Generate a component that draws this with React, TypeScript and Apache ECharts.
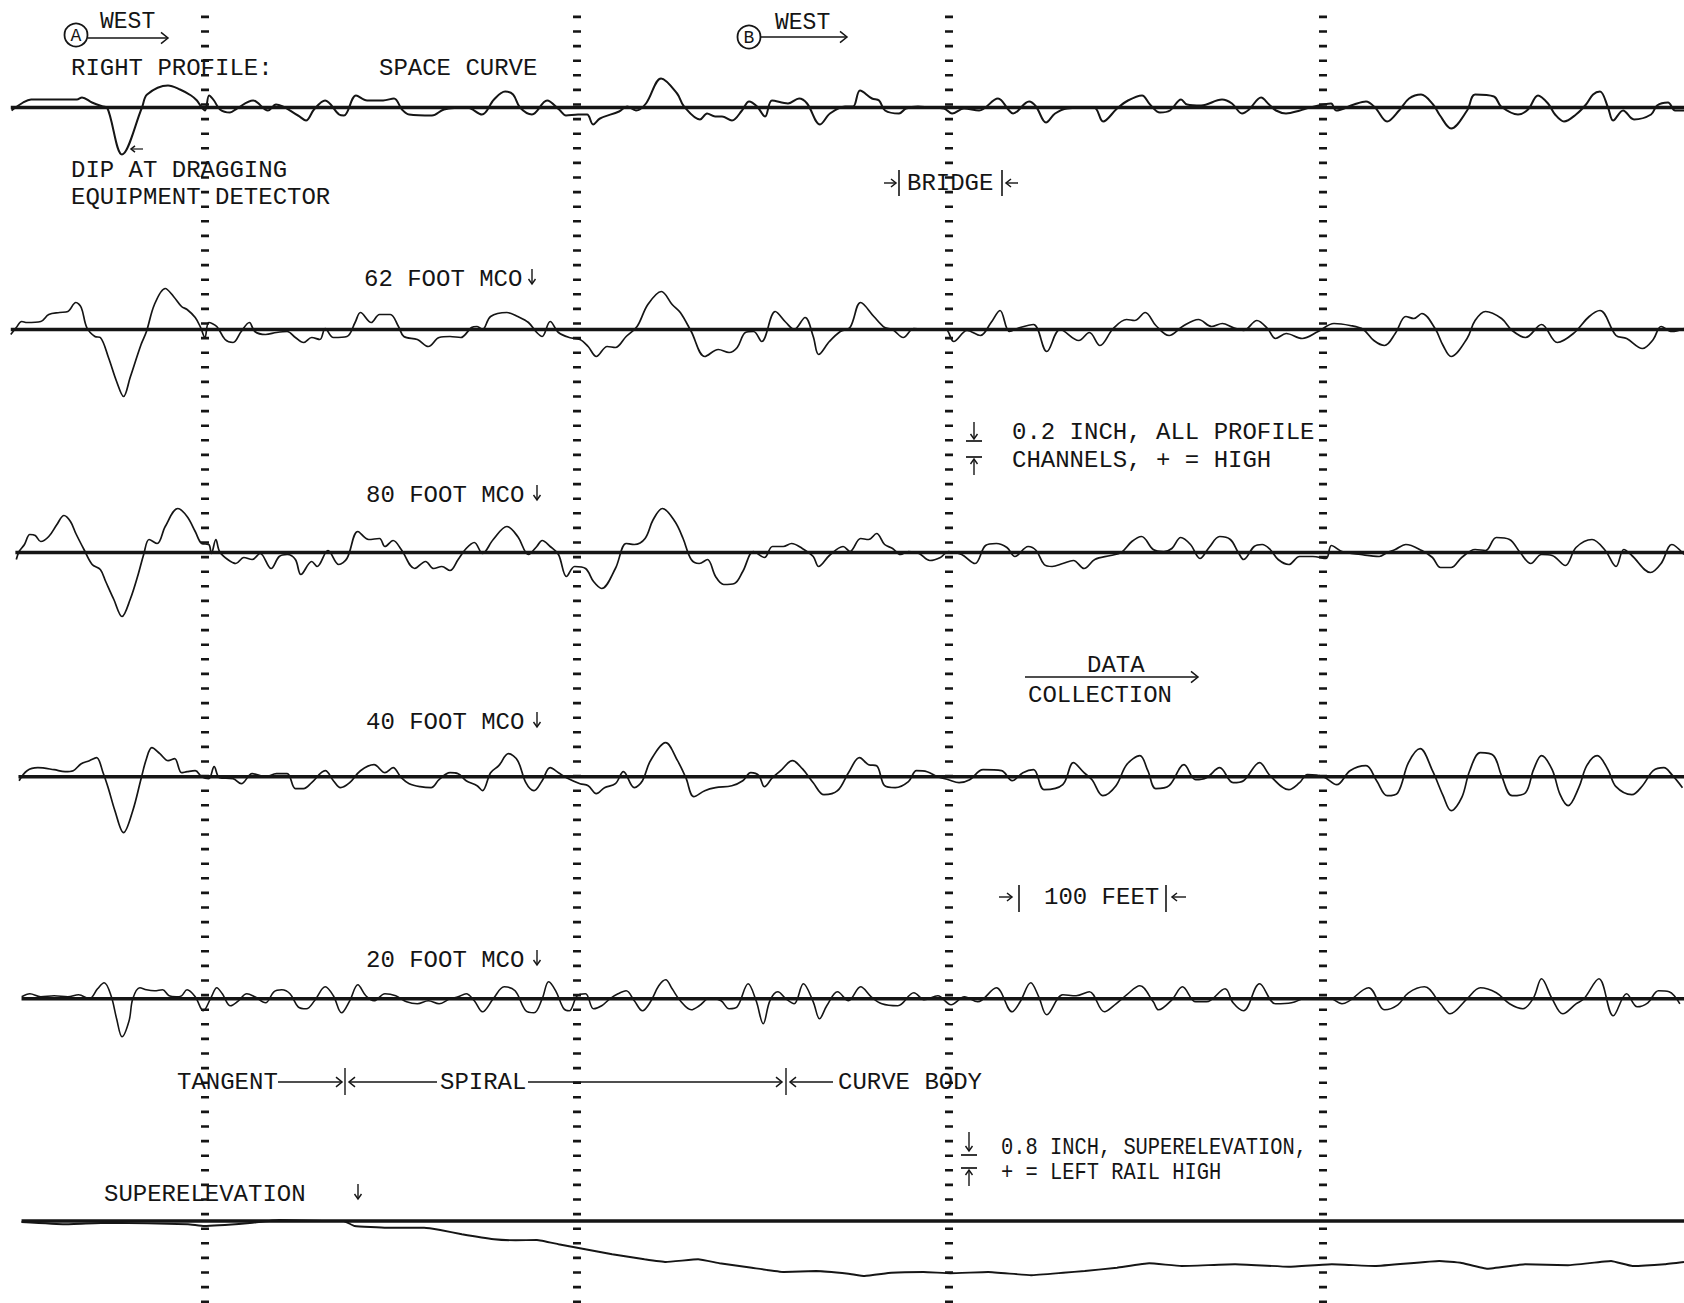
import React, { useEffect, useRef } from "react";
import * as echarts from "echarts";

// ---------- data (distance along track in feet, deviation in inches) ----------
const DIST_MAX_FT = 1094.6;
const TICK_COLUMNS_FT = [133, 375, 616.5, 860];

const SPACE_CURVE: number[][] = [[7.5,-0.03],[15,0.05],[20.2,0.08],[50,0.08],[53.3,0.1],[59.8,0.05],[67,0.01],[69.6,0],[79.3,-0.47],[92.3,0],[95.6,0.13],[109.2,0.22],[117,0.18],[124.2,0.12],[128,0.07],[130.7,0.01],[133.3,-0.03],[135.9,0.12],[139.1,0.07],[143,-0.02],[149.5,-0.05],[154,-0.01],[164.5,0.07],[174.2,-0.03],[179.4,0.03],[193.7,-0.08],[198.9,-0.13],[204.1,-0.02],[211.3,0.07],[220.4,-0.07],[223.6,-0.08],[231.4,0.12],[238.6,0.07],[249,0.07],[256.1,0.09],[261.3,-0.02],[265.9,-0.07],[280.8,-0.08],[288.6,-0.02],[303.6,0],[313.3,-0.07],[321.1,0.08],[328.3,0.16],[333.5,0.13],[338,0],[345.8,-0.07],[355.6,0.07],[363.4,-0.02],[367.9,-0.08],[375.7,-0.07],[381.6,-0.07],[385.5,-0.17],[390,-0.11],[402.4,-0.04],[407.6,0.01],[413.4,-0.03],[419.9,0.04],[429.7,0.29],[440.1,0.14],[444.6,0.01],[455,-0.12],[459.6,-0.06],[464.8,-0.09],[469.3,-0.09],[475.8,-0.13],[482.3,-0.03],[486.9,0.06],[492.1,0.01],[497.3,-0.09],[501.8,0.07],[512.2,0.04],[519.4,0.09],[524.6,0.04],[533,-0.17],[539.5,-0.06],[549.3,0.01],[554.5,0.01],[559,0.17],[566.8,0.09],[571.4,0.07],[575.3,-0.03],[584.4,-0.06],[588.9,-0.01],[596.7,0.01],[603.9,0],[613.6,-0.01],[618.8,-0.06],[626.6,-0.01],[636.4,-0.03],[648.7,0.09],[655.9,-0.03],[658.5,-0.06],[668.9,0.06],[673.4,0.01],[679.9,-0.15],[685.8,-0.06],[693.6,-0.01],[711.1,0],[717,-0.14],[726.1,-0.01],[733.2,0.07],[742.3,0.12],[747.5,0.03],[754,-0.05],[760.5,-0.03],[767.7,0.08],[771.6,0.03],[780.7,0.02],[794.3,0.08],[800.8,0.04],[807.3,-0.06],[811.9,-0.02],[819.7,0.1],[824.9,0.03],[829.4,-0.03],[835.9,-0.06],[845,-0.03],[851.5,0],[865.2,0.04],[868.4,-0.03],[880.1,0.03],[887.9,0.06],[893.8,0],[901.6,-0.14],[909.4,-0.03],[915.9,0.09],[923.7,0.13],[931.5,0.03],[936,-0.08],[943.2,-0.21],[953.6,-0.03],[958.8,0.13],[971.1,0.11],[975.7,0.01],[986.7,-0.07],[993.2,-0.02],[999.7,0.12],[1006.2,0.04],[1010.8,-0.07],[1016.6,-0.14],[1024.4,-0.07],[1030.9,0.03],[1035.5,0.13],[1040,0.16],[1045.2,0],[1048.5,-0.13],[1055,-0.03],[1062.1,-0.12],[1073.2,-0.07],[1077.1,0.02],[1084.2,0.05],[1088.8,-0.03],[1094.6,-0.03]];

const MCO_62: number[][] = [[7,-0.05],[10.6,0.02],[14.1,0.08],[17.6,0.07],[26.5,0.08],[31.7,0.15],[38.7,0.17],[44.1,0.18],[49.3,0.27],[52.8,0.22],[56.4,0.02],[61.7,-0.07],[65.2,-0.08],[70.5,-0.28],[75.8,-0.52],[80.3,-0.67],[84.6,-0.48],[91.7,-0.15],[95.2,-0.02],[100.4,0.25],[107.4,0.41],[112.8,0.33],[118,0.23],[121.6,0.2],[126.9,0.12],[130.4,0.02],[133.2,-0.08],[135.7,0.07],[140.9,0.03],[146.3,-0.1],[151.5,-0.13],[156.8,-0.02],[162.1,0.07],[165.6,-0.02],[172.6,-0.05],[179.7,-0.03],[186.7,-0.02],[192,-0.08],[197.3,-0.13],[202.6,-0.08],[207.9,-0.1],[211.4,0.01],[216.7,-0.08],[225.5,-0.07],[230.8,0.07],[234.3,0.17],[241.3,0.07],[246.7,0.15],[253.7,0.15],[259,0.03],[262.5,-0.07],[271.3,-0.1],[278.4,-0.17],[285.4,-0.08],[292.5,-0.07],[299.5,-0.08],[306.5,0.02],[310.1,0.03],[313.6,0],[318.9,0.13],[329.5,0.17],[336.5,0.13],[343.5,0.07],[348.9,-0.03],[352.4,-0.07],[357.6,0.08],[363,-0.03],[370,-0.08],[377,-0.1],[382.3,-0.17],[387.6,-0.27],[394.7,-0.17],[400,-0.18],[407,-0.07],[414.1,0.03],[421.1,0.25],[429.9,0.38],[436.9,0.25],[442.2,0.17],[449.3,-0.02],[458.1,-0.27],[466.9,-0.2],[473.9,-0.23],[479.2,-0.18],[484.5,-0.03],[489.8,-0.02],[495.1,-0.12],[503.9,0.18],[510.9,0.07],[516.2,0],[523.3,0.12],[528.6,-0.07],[532.1,-0.25],[539.1,-0.12],[546.2,-0.02],[552.5,0.02],[559.4,0.27],[568,0.13],[575,0.02],[580.2,0],[587.1,-0.08],[594,0.01],[604.4,0],[614.7,0],[619.9,-0.12],[628.6,-0.01],[637.2,-0.06],[644.2,0.07],[650,0.19],[656.2,-0.02],[663.1,0.02],[671.8,0.05],[680.4,-0.22],[689.1,0],[701.2,-0.11],[708.1,-0.03],[715,-0.16],[723.6,0.01],[732.3,0.1],[737.5,0.09],[744.4,0.17],[751.3,0.04],[759.9,-0.06],[768.6,0.03],[779,0.1],[787.6,0.03],[794.5,0.06],[801.5,0.02],[808.3,-0.01],[817,0.09],[823.9,0.01],[829.1,-0.09],[836,-0.04],[846.4,-0.09],[856.8,-0.02],[867.1,0.06],[877.5,0.04],[886.1,0],[893,-0.11],[900,-0.16],[906.9,-0.04],[913.8,0.13],[919,0.11],[924.2,0.16],[932.8,0.01],[938,-0.16],[943.2,-0.27],[953.6,-0.09],[958.8,0.09],[965.6,0.18],[976,0.11],[982.9,-0.01],[991.6,-0.08],[1002,0.05],[1012.3,-0.13],[1022.7,-0.04],[1033,0.13],[1040,0.19],[1050.4,-0.06],[1057.3,-0.09],[1067.6,-0.19],[1074.6,-0.1],[1079.7,0.03],[1086.7,-0.02],[1094.6,0.01]];

const MCO_80: number[][] = [[10.6,-0.07],[12.4,0.01],[15.9,0.08],[19.4,0.18],[22.9,0.17],[26.5,0.11],[31.7,0.16],[37,0.28],[41.6,0.37],[45.8,0.31],[49.3,0.19],[54.6,0.03],[59.9,-0.12],[65.2,-0.17],[68.7,-0.29],[74,-0.47],[79.3,-0.64],[84.6,-0.47],[89.8,-0.22],[93.4,-0.02],[96.9,0.13],[102.2,0.09],[107.4,0.26],[115.6,0.44],[121.6,0.36],[126.9,0.21],[131.1,0.09],[135.7,0.08],[137.4,-0.01],[140.3,0.13],[142.7,0.01],[148,-0.07],[153.3,-0.11],[158.5,-0.05],[163.9,-0.07],[169.1,-0.01],[176.2,-0.16],[181.5,-0.04],[186.7,-0.02],[192,-0.07],[195.6,-0.22],[202.6,-0.09],[206.1,-0.14],[213.2,0.02],[220.2,-0.12],[225.5,-0.06],[232.6,0.21],[239.6,0.13],[246.7,0.14],[250.2,0.06],[255.5,0.12],[260.8,0.03],[269.6,-0.16],[276.6,-0.09],[281.9,-0.16],[287.2,-0.14],[292.5,-0.18],[297.8,-0.07],[303,0.04],[308.3,0.1],[313.6,-0.01],[320.6,0.13],[329.5,0.26],[336.5,0.16],[343.5,-0.02],[348.9,0.06],[352.4,0.12],[357.6,0.06],[363,-0.02],[368.2,-0.24],[373.5,-0.14],[380.6,-0.16],[385.8,-0.29],[391.1,-0.36],[400,-0.16],[407,0.09],[412.3,0.08],[419.3,0.14],[424.6,0.33],[430.6,0.44],[438.7,0.31],[444,0.14],[449.3,-0.07],[454.5,-0.11],[459.8,-0.07],[465.1,-0.24],[470.4,-0.32],[477.4,-0.31],[482.8,-0.19],[489.8,0.01],[496.9,-0.05],[502.1,0.06],[509.1,0.06],[514.5,0.09],[521.5,0.04],[528.6,-0.04],[532.1,-0.14],[539.1,-0.03],[548,0.06],[552.5,0.01],[559.4,0.14],[564.6,0.13],[569.8,0.19],[575,0.08],[580.2,0.04],[585.3,-0.02],[590.5,0.01],[597.4,-0.01],[604.4,-0.08],[611.3,-0.05],[616.5,0.01],[625.1,-0.02],[633.8,-0.11],[640.6,0.07],[647.6,0.09],[654.5,0.05],[659.7,-0.04],[668.3,0.06],[673.5,0.02],[678.7,-0.12],[683.9,-0.14],[690.8,-0.11],[697.7,-0.08],[704.6,-0.16],[711.6,-0.07],[721.9,-0.03],[728.8,0],[735.7,0.11],[742,0.16],[749.6,0.03],[756.5,0.01],[761.7,0.04],[767.5,0.15],[773.8,0.08],[780,-0.06],[785.9,0.05],[792.8,0.16],[799.7,0.13],[804.9,0],[808.3,-0.07],[815.2,0.06],[820.4,0.08],[825.6,0.03],[830.8,-0.07],[837.7,-0.12],[844.7,-0.04],[853.3,-0.04],[862,-0.06],[865.4,0.07],[872.3,0.01],[884.4,-0.02],[896.5,-0.04],[901.7,0],[906.9,0.03],[913.8,0.08],[924.2,0.02],[931.1,-0.05],[936.3,-0.15],[943.2,-0.15],[950.1,-0.05],[958.8,0.03],[965.6,0.02],[972.6,0.15],[981.2,0.13],[988.1,0],[995,-0.11],[1002,-0.02],[1008.9,-0.03],[1017.5,-0.13],[1024.4,0.05],[1034.8,0.13],[1043.4,0.02],[1050.4,-0.14],[1055.5,0.03],[1060.7,-0.03],[1072.8,-0.2],[1079.7,-0.11],[1086.7,0.08],[1094.6,-0.02]];

const MCO_40: number[][] = [[12.4,-0.04],[17.6,0.06],[24.6,0.09],[35.2,0.07],[42.3,0.05],[47.6,0.06],[52.8,0.13],[58.1,0.16],[62.7,0.19],[67,0.04],[70.5,-0.12],[74.7,-0.34],[80.3,-0.56],[86.3,-0.34],[91.7,-0.02],[95.2,0.18],[98.7,0.29],[103.9,0.23],[109.3,0.16],[113.5,0.18],[118,0.04],[121.6,0.05],[126.9,0.06],[131.1,0],[135.7,-0.02],[139.2,0.1],[142.7,-0.01],[151.5,-0.02],[156.8,-0.07],[163.9,0.03],[172.6,0],[179.7,0.03],[186.7,0.03],[192,-0.12],[197.3,-0.12],[202.6,-0.06],[211.4,0.06],[216.7,-0.04],[221.3,-0.11],[227.3,-0.06],[234.3,0.06],[243.1,0.12],[250.2,0.04],[255.5,0.09],[260.8,-0.01],[266,-0.07],[273.1,-0.1],[280.2,-0.11],[285.4,-0.03],[292.5,0.04],[297.8,0.03],[303,-0.04],[310.1,-0.09],[313.6,-0.14],[318.9,0.04],[324.2,0.11],[330.5,0.23],[336.5,0.16],[341.8,-0.06],[347.1,-0.14],[352.4,-0.04],[357.6,0.09],[363,0.04],[368.2,-0.01],[377,-0.07],[382.3,-0.09],[387.6,-0.17],[392.9,-0.11],[400,-0.07],[405.2,0.05],[412.3,-0.11],[417.6,-0.04],[422.8,0.16],[432.7,0.34],[440.4,0.16],[445.8,-0.01],[451,-0.2],[458.1,-0.14],[465.1,-0.11],[475.7,-0.09],[482.8,-0.04],[488,0.04],[493.3,0.01],[496.9,-0.1],[502.1,-0.01],[507.4,0.06],[515.1,0.16],[521.5,0.08],[528.6,-0.06],[535.6,-0.18],[544.4,-0.14],[551.5,0.04],[558.7,0.19],[564.6,0.12],[569.8,0.11],[575,-0.09],[581.9,-0.11],[590.5,-0.05],[595.7,0.06],[602.6,0.05],[609.6,0],[616.5,-0.03],[623.4,-0.06],[630.3,-0.03],[639,0.07],[651,0.06],[657.9,-0.04],[664.9,0.04],[671.8,0.07],[678.7,-0.13],[690.8,-0.08],[697.7,0.14],[704.6,0.04],[709.8,-0.03],[716.8,-0.19],[725.4,-0.09],[732.3,0.12],[740.9,0.21],[746.1,0.06],[751.3,-0.12],[759.9,-0.09],[769.6,0.12],[777.2,-0.03],[784.2,-0.01],[792.8,0.09],[801.5,-0.06],[808.3,-0.04],[818.7,0.14],[825.6,0.01],[837.7,-0.13],[844.7,-0.06],[849.8,0.02],[860.2,0],[868.9,-0.08],[877.5,0.06],[887.9,0.11],[894.8,-0.04],[901.7,-0.19],[908.6,-0.16],[915.5,0.14],[923.1,0.28],[931.1,0.06],[938,-0.19],[943.2,-0.34],[950.1,-0.21],[955.3,0.06],[962.2,0.24],[970.8,0.21],[976,0.01],[982.9,-0.19],[991.6,-0.16],[996.8,0.07],[1002,0.21],[1008.9,0.07],[1014.1,-0.18],[1019.3,-0.29],[1026.2,-0.11],[1031.4,0.11],[1038.2,0.21],[1045.2,0.07],[1050.4,-0.1],[1060.7,-0.18],[1067.6,-0.09],[1074.6,0.06],[1081.5,0.09],[1086.7,0.02],[1093.6,-0.11]];

const MCO_20: number[][] = [[14.1,0.02],[19.4,0.05],[26.5,0.02],[35.2,0.03],[44.1,0.02],[51.1,0.04],[58.1,0],[63.4,0.1],[67.7,0.16],[72.2,0.03],[75.8,-0.2],[79.3,-0.38],[83.9,-0.22],[86.3,0],[90.9,0.11],[95.2,0.09],[100.4,0.08],[105.7,0.09],[109.9,0.03],[114.5,0.02],[118,0.03],[121.6,0.09],[126.9,0.02],[132.1,-0.12],[137.4,0.02],[140.9,0.11],[144.5,0.05],[149.8,-0.07],[155,-0.02],[160.4,0.05],[165.6,0.02],[172.6,-0.04],[178,0.07],[183.2,0.09],[188.5,0.05],[193.8,-0.08],[199.1,-0.1],[204.4,-0.02],[211.4,0.12],[216.7,0.03],[222,-0.14],[227.3,-0.02],[232.6,0.14],[237.8,0.03],[243.1,-0.02],[250.2,0.05],[257.2,0.03],[264.3,-0.03],[271.3,-0.05],[278.4,-0.02],[285.4,-0.05],[292.5,0],[297.8,0.02],[303,0.05],[308.3,-0.02],[313.6,-0.13],[320.6,0],[327.7,0.12],[334.8,0.08],[341.8,-0.12],[347.1,-0.14],[352.4,0],[356.6,0.17],[361.2,0.08],[366.5,-0.1],[370,-0.12],[375.2,0.03],[380.6,0.05],[385.8,-0.1],[391.1,-0.07],[396.4,0],[401.7,0.05],[407,0.08],[412.3,-0.02],[417.6,-0.12],[422.8,-0.03],[428.2,0.13],[432.7,0.19],[436.9,0.1],[442.2,-0.02],[449.3,-0.11],[454.5,-0.07],[461.6,0.01],[468.7,-0.02],[473.9,-0.1],[479.2,-0.08],[486.3,0.15],[491.5,-0.02],[496.1,-0.25],[500.4,-0.02],[505.6,0.07],[510.9,0],[516.2,-0.05],[522.2,0.15],[528.6,-0.03],[532.7,-0.2],[537.4,-0.07],[544.4,0.07],[551.5,-0.02],[559.4,0.12],[566.3,0.02],[573.2,-0.05],[583.6,-0.07],[594,0.06],[600.9,-0.01],[609.6,0.03],[618.2,-0.06],[626.9,0.02],[635.5,-0.03],[647.6,0.11],[657.9,-0.13],[663.1,-0.03],[670,0.16],[675.2,0.02],[680.4,-0.16],[690.8,0.04],[699.5,0.03],[708.1,0.07],[717.8,-0.13],[725.4,-0.05],[732.3,0.04],[740.9,0.13],[749.6,-0.03],[753,-0.11],[761.7,-0.01],[768.6,0.12],[777.2,-0.03],[784.2,-0.03],[796.3,0.1],[801.5,-0.04],[808.3,-0.12],[818.7,0.15],[829.1,-0.05],[839.5,-0.04],[849.8,0.01],[863.7,0.01],[872.3,-0.05],[889.6,0.11],[900,-0.11],[908.6,-0.06],[915.5,0.06],[925.9,0.12],[936.3,-0.05],[942.5,-0.15],[953.6,0],[962.2,0.11],[972.6,0.06],[981.2,-0.05],[989.9,-0.1],[996.8,0.01],[1002,0.2],[1008.9,0],[1015.8,-0.15],[1024.4,-0.05],[1029.6,0],[1039.3,0.2],[1048.6,-0.17],[1057.3,0.05],[1064.2,-0.08],[1071.1,-0.04],[1078,0.08],[1084.9,0.07],[1091.9,-0.05]];

const SUPERELEVATION: number[][] = [[14,-0.04],[41.9,-0.13],[69.8,-0.07],[122.2,-0.13],[132.6,-0.2],[160.6,-0.09],[181.4,0.04],[209.3,0],[223.4,0],[230.4,-0.2],[251.3,-0.27],[275.7,-0.27],[286.2,-0.36],[300.2,-0.53],[321.1,-0.73],[335.1,-0.77],[349,-0.76],[363,-0.93],[380.4,-1.13],[397.9,-1.33],[418.9,-1.53],[432.8,-1.64],[453.8,-1.53],[467.7,-1.69],[488.7,-1.87],[509.6,-2.04],[530.5,-2.0],[551.5,-2.11],[562,-2.2],[579.4,-2.07],[600.3,-2.04],[617.8,-2.09],[642.3,-2.04],[670.2,-2.17],[691.1,-2.07],[705.1,-2.0],[726.1,-1.87],[747,-1.69],[767.9,-1.8],[802.8,-1.73],[837.7,-1.83],[865.7,-1.73],[893.6,-1.8],[935.5,-1.6],[949.4,-1.67],[966.9,-1.91],[991.3,-1.73],[1019.2,-1.77],[1047.2,-1.6],[1061.1,-1.8],[1082.1,-1.73],[1094.6,-1.64]];

// where each channel's zero line begins (ft)
const BASELINE_START_FT = [7, 7, 10, 12, 14, 14];

// ---------- layout / style ----------
const INK = "#151515";
const MONO = '"Liberation Mono", "DejaVu Sans Mono", monospace';
const SYM = '"DejaVu Sans", sans-serif';

const CHANNELS = [
  { name: "Space curve", data: SPACE_CURVE, base: 107.5, pxPerIn: 100, range: 1, width: 2, smooth: 0.35 },
  { name: "62 foot MCO", data: MCO_62, base: 329.5, pxPerIn: 100, range: 1, width: 1.7, smooth: 0.35 },
  { name: "80 foot MCO", data: MCO_80, base: 552.5, pxPerIn: 100, range: 1, width: 1.7, smooth: 0.35 },
  { name: "40 foot MCO", data: MCO_40, base: 776.7, pxPerIn: 100, range: 1, width: 1.7, smooth: 0.35 },
  { name: "20 foot MCO", data: MCO_20, base: 998.8, pxPerIn: 100, range: 1, width: 1.6, smooth: 0.35 },
  { name: "Superelevation", data: SUPERELEVATION, base: 1221, pxPerIn: 25, range: 3, width: 1.9, smooth: 0.1 },
];

function label(text: string, x: number, y: number, size = 24, sx = 1, align = "left", font = MONO) {
  return {
    type: "text", x, y, scaleX: sx, silent: true, z: 20,
    style: {
      text, fill: INK, font: `${size}px ${font}`,
      textAlign: align, textVerticalAlign: "middle", align, verticalAlign: "middle",
    },
  };
}
function seg(x1: number, y1: number, x2: number, y2: number, w = 1.5) {
  return { type: "line", silent: true, z: 20, shape: { x1, y1, x2, y2 }, style: { stroke: INK, lineWidth: w } };
}
function poly(points: number[][], w = 1.5) {
  return { type: "polyline", silent: true, z: 20, shape: { points }, style: { stroke: INK, fill: null, lineWidth: w } };
}
const headRight = (x: number, y: number, l = 7) => poly([[x - l, y - l * 0.8], [x, y], [x - l, y + l * 0.8]]);
const headLeft = (x: number, y: number, l = 7) => poly([[x + l, y - l * 0.8], [x, y], [x + l, y + l * 0.8]]);
const headDown = (x: number, y: number, l = 5) => poly([[x - l * 0.7, y - l], [x, y], [x + l * 0.7, y - l]], 1.4);
const headUp = (x: number, y: number, l = 5) => poly([[x - l * 0.7, y + l], [x, y], [x + l * 0.7, y + l]], 1.4);
function circled(letter: string, cx: number, cy: number) {
  return [
    { type: "circle", silent: true, z: 20, shape: { cx, cy, r: 11.5 }, style: { stroke: INK, fill: null, lineWidth: 1.8 } },
    label(letter, cx, cy + 1, 18, 1, "center"),
  ];
}
// small down arrow drawn after a label
const downArrow = (x: number, y: number) => [seg(x, y - 8, x, y + 6, 1.4), headDown(x, y + 7, 5)];

function buildGraphic() {
  return [
    // A  WEST ->
    ...circled("A", 76, 35),
    label("WEST", 100, 22, 23),
    seg(88, 38, 168, 38), headRight(168, 38),
    // B  WEST ->
    ...circled("B", 749, 37),
    label("WEST", 775, 23, 23),
    seg(761, 37, 847, 37), headRight(847, 37),

    label("RIGHT PROFILE:", 71, 68),
    label("SPACE CURVE", 379, 68),
    label("DIP AT DRAGGING", 71, 170),
    label("EQUIPMENT DETECTOR", 71, 197),
    seg(131, 149, 143, 149, 1.2), headLeft(131, 149, 4),

    label("62 FOOT MCO", 364, 279), ...downArrow(532, 277),
    label("80 FOOT MCO", 366, 495), ...downArrow(537, 493),
    label("40 FOOT MCO", 366, 722), ...downArrow(537, 720),
    label("20 FOOT MCO", 366, 960), ...downArrow(537, 958),

    // |BRIDGE|
    seg(884, 183, 896, 183, 1.4), headRight(896, 183, 5),
    seg(899, 170, 899, 196, 1.6),
    label("BRIDGE", 907, 183),
    seg(1002, 170, 1002, 196, 1.6),
    seg(1006, 183, 1018, 183, 1.4), headLeft(1006, 183, 5),

    // 0.2 inch scale
    seg(974, 422, 974, 439, 1.4), headDown(974, 439),
    seg(966, 441, 982, 441, 1.7),
    seg(966, 457, 982, 457, 1.7),
    seg(974, 459, 974, 475, 1.4), headUp(974, 459),
    label("0.2 INCH, ALL PROFILE", 1012, 432),
    label("CHANNELS, + = HIGH", 1012, 460),

    // DATA COLLECTION
    label("DATA", 1087, 665),
    seg(1025, 677, 1198, 677, 1.3), headRight(1198, 677, 7),
    label("COLLECTION", 1028, 695),

    // 100 FEET
    seg(999, 897, 1012, 897, 1.4), headRight(1012, 897, 5),
    seg(1019, 885, 1019, 912, 1.6),
    label("100 FEET", 1044, 897),
    seg(1166, 885, 1166, 912, 1.6),
    seg(1172, 897, 1186, 897, 1.4), headLeft(1172, 897, 5),

    // TANGENT / SPIRAL / CURVE BODY
    label("TANGENT", 177, 1082),
    seg(278, 1082, 342, 1082, 1.3), headRight(342, 1082, 6),
    seg(345, 1068, 345, 1095, 1.4),
    headLeft(349, 1082, 6), seg(349, 1082, 437, 1082, 1.3),
    label("SPIRAL", 440, 1082),
    seg(528, 1082, 782, 1082, 1.3), headRight(782, 1082, 6),
    seg(786, 1068, 786, 1095, 1.4),
    headLeft(790, 1082, 6), seg(790, 1082, 833, 1082, 1.3),
    label("CURVE BODY", 838, 1082),

    // superelevation labels
    label("SUPERELEVATION", 104, 1194),
    ...downArrow(358, 1192),
    seg(969, 1132, 969, 1151, 1.4), headDown(969, 1151),
    seg(961, 1155, 977, 1155, 1.7),
    seg(961, 1168, 977, 1168, 1.7),
    seg(969, 1170, 969, 1186, 1.4), headUp(969, 1170),
    label("0.8 INCH, SUPERELEVATION,", 1001, 1148, 24, 0.85),
    label("+ = LEFT RAIL HIGH", 1001, 1173, 24, 0.85),
  ];
}

function buildOption() {
  const grid: any[] = [];
  const xAxis: any[] = [];
  const yAxis: any[] = [];
  const series: any[] = [];

  CHANNELS.forEach((ch, i) => {
    const half = ch.range * ch.pxPerIn;
    grid.push({ left: 0, right: 0, top: ch.base - half, height: 2 * half });
    xAxis.push({ type: "value", gridIndex: i, min: 0, max: DIST_MAX_FT, show: false });
    yAxis.push({ type: "value", gridIndex: i, min: -ch.range, max: ch.range, show: false });
    series.push({
      type: "line", name: ch.name + " zero", xAxisIndex: i, yAxisIndex: i,
      data: [[BASELINE_START_FT[i], 0], [DIST_MAX_FT, 0]],
      symbol: "none", silent: true, z: 3,
      lineStyle: { color: INK, width: 3.4 },
    });
    series.push({
      type: "line", name: ch.name, xAxisIndex: i, yAxisIndex: i, data: ch.data,
      symbol: "none", showSymbol: false, smooth: ch.smooth, silent: true, z: 4,
      lineStyle: { color: INK, width: ch.width },
    });
  });

  // dashed marker columns
  const t = CHANNELS.length;
  grid.push({ left: 0, right: 0, top: 11, bottom: 0 });
  xAxis.push({ type: "value", gridIndex: t, min: 0, max: DIST_MAX_FT, show: false });
  yAxis.push({ type: "value", gridIndex: t, min: 0, max: 1, show: false });
  series.push({
    type: "line", name: "markers", xAxisIndex: t, yAxisIndex: t, data: [], z: 2,
    markLine: {
      silent: true, symbol: "none", animation: false,
      label: { show: false },
      lineStyle: { color: INK, width: 8, type: [2.6, 12], opacity: 1 },
      emphasis: { disabled: true },
      data: TICK_COLUMNS_FT.map((x) => ({ xAxis: x })),
    },
  });

  return {
    animation: false,
    backgroundColor: "#ffffff",
    grid, xAxis, yAxis, series,
    graphic: buildGraphic(),
  };
}

export default function App() {
  const ref = useRef<HTMLDivElement>(null);
  useEffect(() => {
    const chart = echarts.init(ref.current!, null, { renderer: "svg" });
    chart.setOption(buildOption() as any);
    return () => chart.dispose();
  }, []);
  return (
    <div
      ref={ref}
      style={{ position: "absolute", left: 0, top: 0, width: 1684, height: 1303, background: "#fff" }}
    />
  );
}
